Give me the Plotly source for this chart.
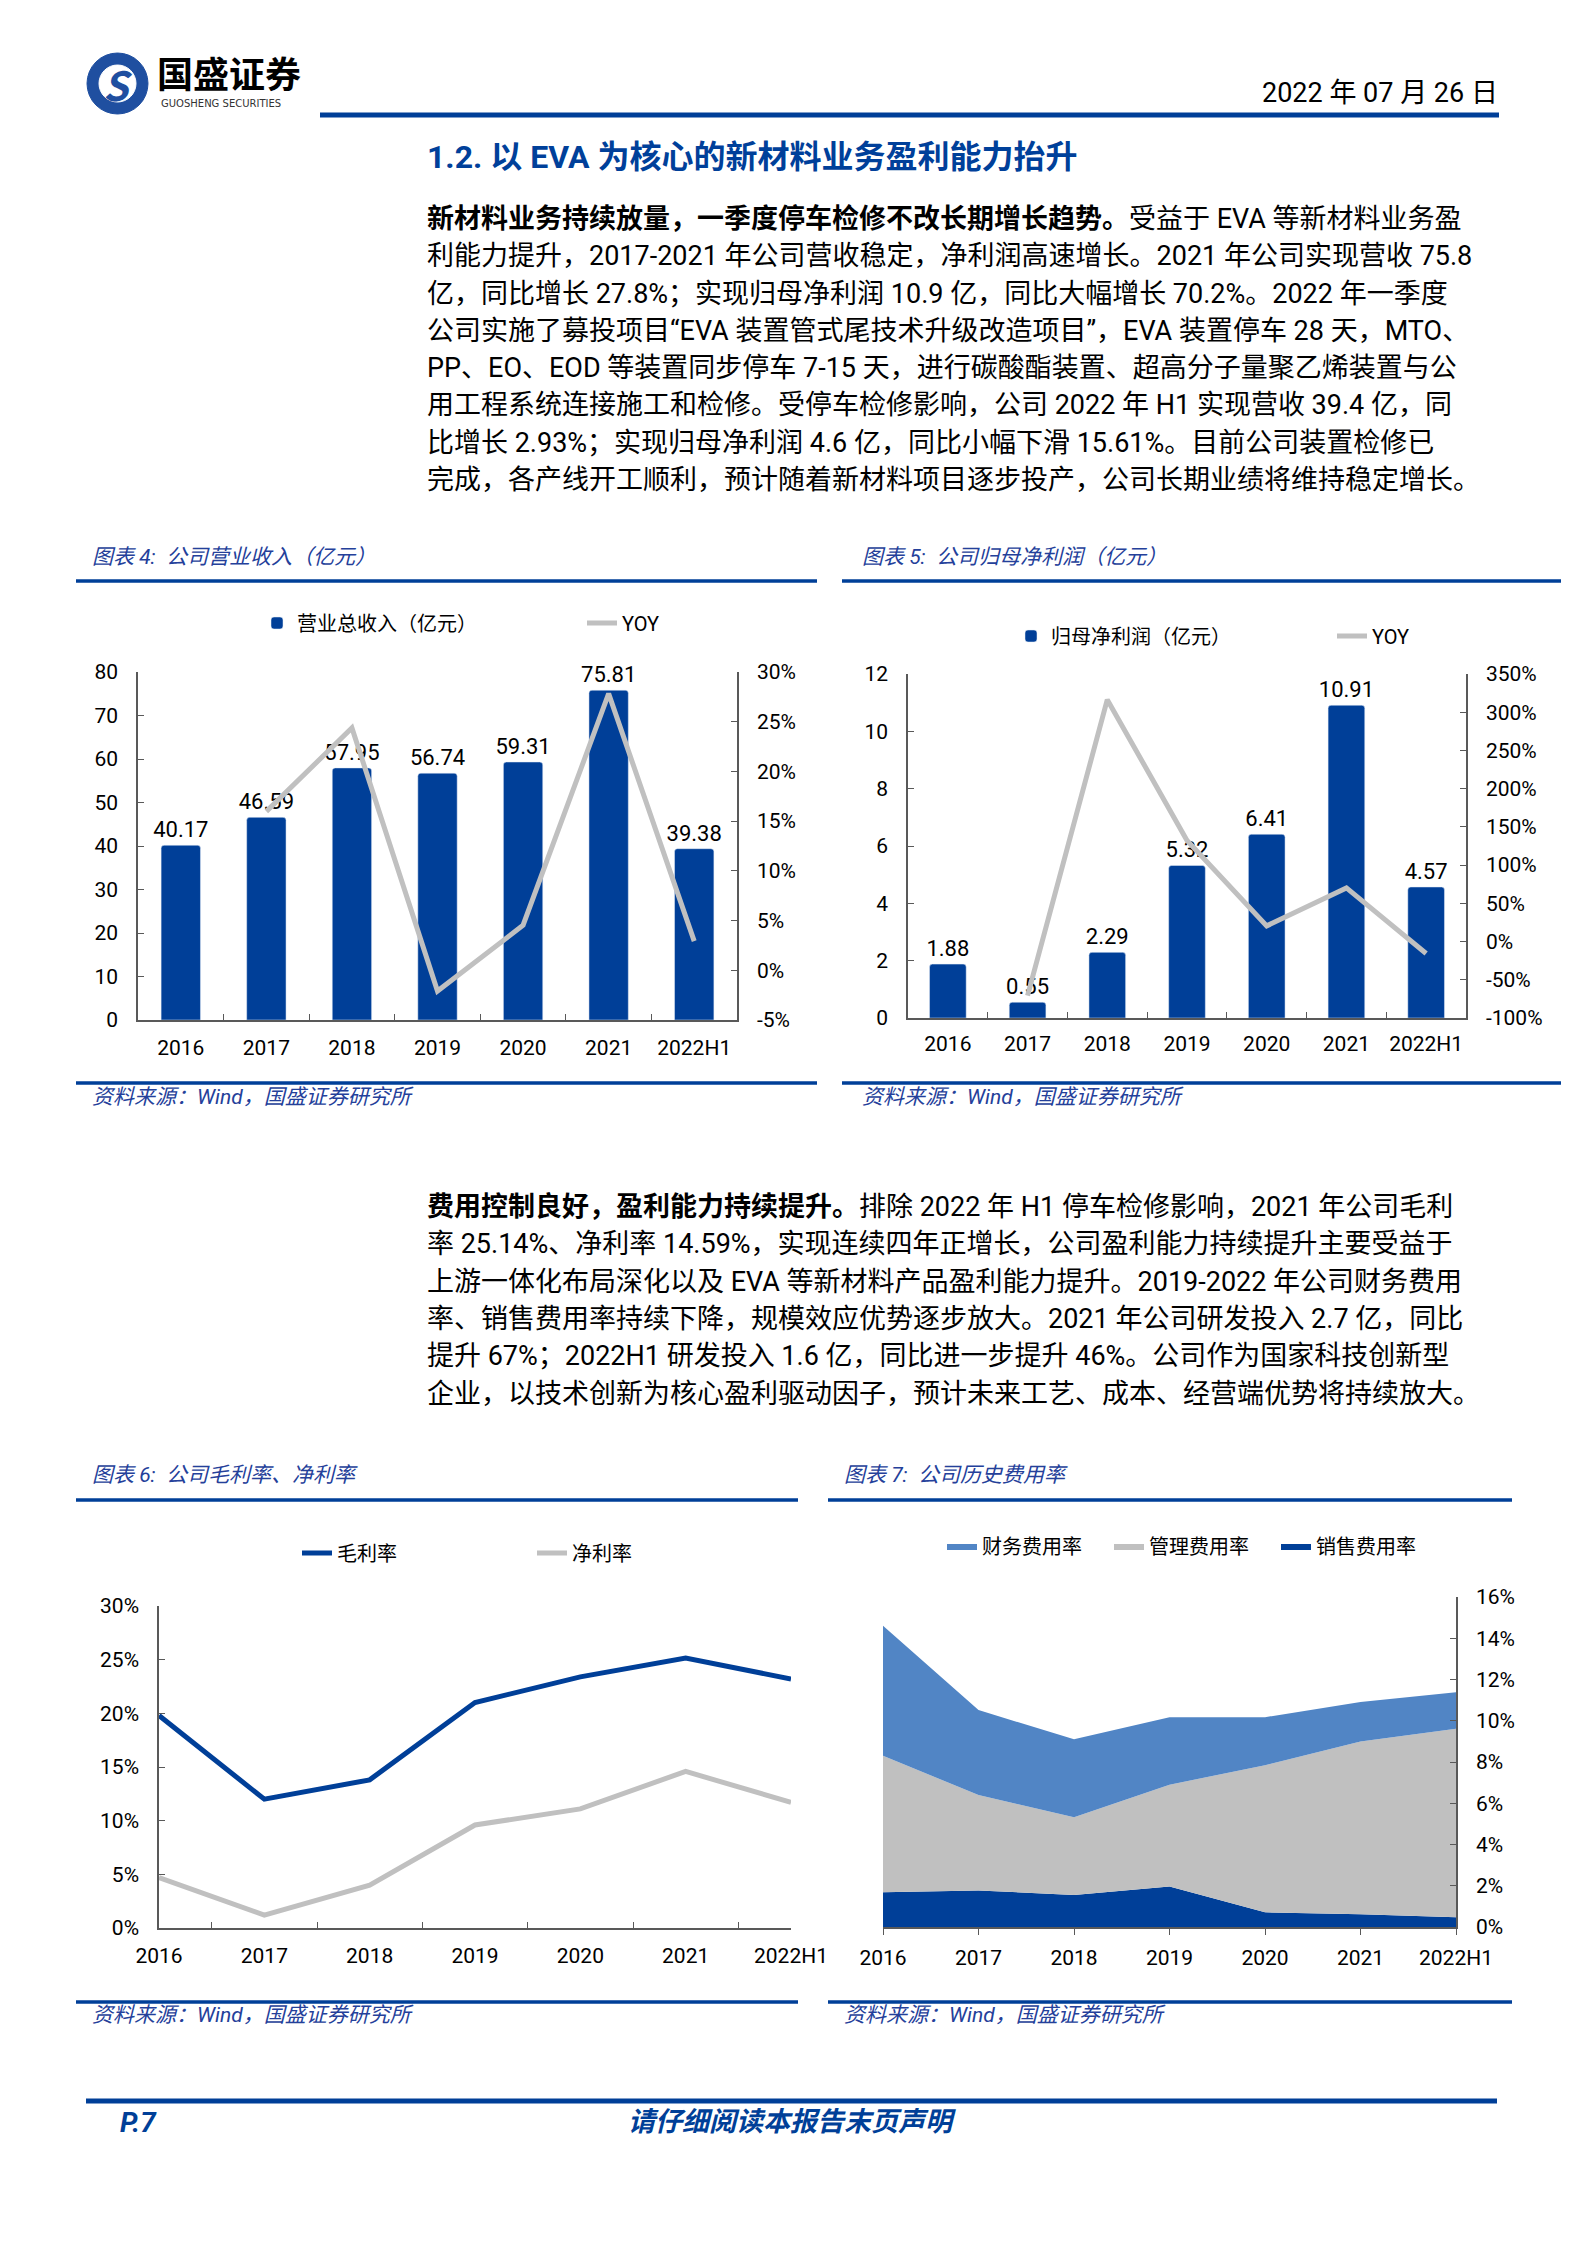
"""
国盛证券研报 P.7 页面复刻：营收/归母净利润/利润率/费用率四张图及正文。
"""
import plotly.graph_objects as go

PAGE_W, PAGE_H = 1587, 2245
BODY_MARGIN = 8  # the html page puts the plot 8px in from the top-left corner

# ---- data -----------------------------------------------------------------
YEARS = ["2016", "2017", "2018", "2019", "2020", "2021", "2022H1"]

# 图表4：公司营业收入（亿元）
REVENUE = [40.17, 46.59, 57.95, 56.74, 59.31, 75.81, 39.38]
REVENUE_YOY = [None, 15.98, 24.38, -2.09, 4.53, 27.82, 2.93]

# 图表5：公司归母净利润（亿元）
NET_PROFIT = [1.88, 0.55, 2.29, 5.32, 6.41, 10.91, 4.57]
NET_PROFIT_YOY = [None, -70.7, 316.4, 132.3, 20.5, 70.2, -15.61]

# 图表6：毛利率、净利率（%）
GROSS_MARGIN = [19.8, 12.0, 13.8, 21.0, 23.4, 25.14, 23.2]
NET_MARGIN = [4.7, 1.2, 4.0, 9.6, 11.1, 14.59, 11.7]

# 图表7：费用率（%）
SELLING_RATE = [1.68, 1.77, 1.55, 1.96, 0.71, 0.62, 0.47]
ADMIN_RATE = [6.62, 4.63, 3.77, 4.94, 7.13, 8.37, 9.14]
FINANCE_RATE = [6.30, 4.12, 3.78, 3.27, 2.33, 1.92, 1.77]

# tick values
REV_TICKS = [0, 10, 20, 30, 40, 50, 60, 70, 80]
REV_YOY_TICKS = [-5, 0, 5, 10, 15, 20, 25, 30]
NP_TICKS = [0, 2, 4, 6, 8, 10, 12]
NP_YOY_TICKS = [-100, -50, 0, 50, 100, 150, 200, 250, 300, 350]
MARGIN_TICKS = [0, 5, 10, 15, 20, 25, 30]
RATE_TICKS = [0, 2, 4, 6, 8, 10, 12, 14, 16]

PARA_1 = [
    "<b>新材料业务持续放量，一季度停车检修不改长期增长趋势。</b>受益于 EVA 等新材料业务盈",
    "利能力提升，2017-2021 年公司营收稳定，净利润高速增长。2021 年公司实现营收 75.8",
    "亿，同比增长 27.8%；实现归母净利润 10.9 亿，同比大幅增长 70.2%。2022 年一季度",
    "公司实施了募投项目“EVA 装置管式尾技术升级改造项目”，EVA 装置停车 28 天，MTO、",
    "PP、EO、EOD 等装置同步停车 7-15 天，进行碳酸酯装置、超高分子量聚乙烯装置与公",
    "用工程系统连接施工和检修。受停车检修影响，公司 2022 年 H1 实现营收 39.4 亿，同",
    "比增长 2.93%；实现归母净利润 4.6 亿，同比小幅下滑 15.61%。目前公司装置检修已",
    "完成，各产线开工顺利，预计随着新材料项目逐步投产，公司长期业绩将维持稳定增长。",
]
PARA_2 = [
    "<b>费用控制良好，盈利能力持续提升。</b>排除 2022 年 H1 停车检修影响，2021 年公司毛利",
    "率 25.14%、净利率 14.59%，实现连续四年正增长，公司盈利能力持续提升主要受益于",
    "上游一体化布局深化以及 EVA 等新材料产品盈利能力提升。2019-2022 年公司财务费用",
    "率、销售费用率持续下降，规模效应优势逐步放大。2021 年公司研发投入 2.7 亿，同比",
    "提升 67%；2022H1 研发投入 1.6 亿，同比进一步提升 46%。公司作为国家科技创新型",
    "企业，以技术创新为核心盈利驱动因子，预计未来工艺、成本、经营端优势将持续放大。",
]

# ---- style ----------------------------------------------------------------
FONT = "Liberation Sans Narrow, Roboto, Noto Sans CJK SC, sans-serif"
CJK = "Noto Sans CJK SC, sans-serif"
BLUE = "#003F98"
LIGHT_BLUE = "#5185C5"
GRAY = "#C0C0C0"
AXIS = "#595959"
CAPTION = "#24409A"


def px(x):
    """page pixel x -> paper fraction"""
    return (x - BODY_MARGIN) / PAGE_W


def py(y):
    """page pixel y (from top) -> paper fraction"""
    return 1 - (y - BODY_MARGIN) / PAGE_H


def pct_text(vals):
    return [f"{v}%" for v in vals]


def axis_style(**kw):
    base = dict(showline=True, linecolor=AXIS, linewidth=1.5, ticks="inside",
                ticklen=6, tickcolor=AXIS, showgrid=False, zeroline=False,
                tickfont=dict(family=FONT, size=21, color="#000"),
                ticklabelstandoff=14, fixedrange=True, automargin=False,
                tickangle=0)
    base.update(kw)
    return base


def legend_style(x, y, entrywidth, **kw):
    base = dict(x=px(x), y=py(y), xanchor="left", yanchor="middle",
                orientation="h", entrywidth=entrywidth, entrywidthmode="pixels",
                font=dict(family=FONT, size=20, color="#000"),
                bgcolor="rgba(0,0,0,0)", itemwidth=30)
    base.update(kw)
    return base


fig = go.Figure()

# 图表4
fig.add_trace(go.Bar(x=YEARS, y=REVENUE, name="营业总收入（亿元）",
                     marker=dict(color=BLUE, cornerradius=3),
                     text=REVENUE, texttemplate="%{y:.2f}", textposition="outside",
                     textfont=dict(family=FONT, size=22, color="#000"),
                     constraintext="none", cliponaxis=False,
                     xaxis="x", yaxis="y", legend="legend"))
fig.add_trace(go.Scatter(x=YEARS, y=REVENUE_YOY, name="YOY", mode="lines",
                         line=dict(color=GRAY, width=5), xaxis="x", yaxis="y2",
                         legend="legend"))

# 图表5
fig.add_trace(go.Bar(x=YEARS, y=NET_PROFIT, name="归母净利润（亿元）",
                     marker=dict(color=BLUE, cornerradius=3),
                     text=NET_PROFIT, texttemplate="%{y:.2f}", textposition="outside",
                     textfont=dict(family=FONT, size=22, color="#000"),
                     constraintext="none", cliponaxis=False,
                     xaxis="x2", yaxis="y3", legend="legend2"))
fig.add_trace(go.Scatter(x=YEARS, y=NET_PROFIT_YOY, name="YOY", mode="lines",
                         line=dict(color=GRAY, width=5), xaxis="x2", yaxis="y4",
                         legend="legend2"))

# 图表6
fig.add_trace(go.Scatter(x=YEARS, y=GROSS_MARGIN, name="毛利率", mode="lines",
                         line=dict(color=BLUE, width=5), xaxis="x3", yaxis="y5",
                         legend="legend3"))
fig.add_trace(go.Scatter(x=YEARS, y=NET_MARGIN, name="净利率", mode="lines",
                         line=dict(color=GRAY, width=5), xaxis="x3", yaxis="y5",
                         legend="legend3"))

# 图表7 (stacked from bottom: 销售, 管理, 财务)
for name, vals, color in [("销售费用率", SELLING_RATE, BLUE),
                          ("管理费用率", ADMIN_RATE, GRAY),
                          ("财务费用率", FINANCE_RATE, LIGHT_BLUE)]:
    fig.add_trace(go.Scatter(x=YEARS, y=vals, name=name, mode="lines",
                             stackgroup="rate", line=dict(width=0, color=color),
                             fillcolor=color, xaxis="x4", yaxis="y6",
                             legend="legend4"))

fig.update_layout(
    width=PAGE_W, height=PAGE_H, autosize=False,
    margin=dict(l=0, r=0, t=0, b=0, autoexpand=False),
    paper_bgcolor="white", plot_bgcolor="rgba(0,0,0,0)",
    bargap=0.54, hovermode=False,
    xaxis=axis_style(domain=[px(138), px(737)], anchor="y", type="category",
                     tickson="boundaries", ticklabelstandoff=8),
    yaxis=axis_style(domain=[py(1020), py(672)], anchor="x", range=[0, 80],
                     tickvals=REV_TICKS),
    yaxis2=axis_style(overlaying="y", side="right", anchor="x", range=[-5, 30],
                      tickvals=REV_YOY_TICKS, ticktext=pct_text(REV_YOY_TICKS)),
    xaxis2=axis_style(domain=[px(908), px(1466)], anchor="y3", type="category",
                      tickson="boundaries", ticklabelstandoff=6),
    yaxis3=axis_style(domain=[py(1018), py(674)], anchor="x2", range=[0, 12],
                      tickvals=NP_TICKS),
    yaxis4=axis_style(overlaying="y3", side="right", anchor="x2", range=[-100, 350],
                      tickvals=NP_YOY_TICKS, ticktext=pct_text(NP_YOY_TICKS)),
    xaxis3=axis_style(domain=[px(159), px(791)], anchor="y5", type="category",
                      tickson="boundaries", ticklabelstandoff=8),
    yaxis5=axis_style(domain=[py(1928), py(1606)], anchor="x3", range=[0, 30],
                      tickvals=MARGIN_TICKS, ticktext=pct_text(MARGIN_TICKS)),
    xaxis4=axis_style(domain=[px(883), px(1456)], anchor="y6", type="category",
                      range=[0, 6], ticks="outside", ticklabelstandoff=5),
    yaxis6=axis_style(domain=[py(1927), py(1597)], anchor="x4", side="right",
                      range=[0, 16], tickvals=RATE_TICKS,
                      ticktext=pct_text(RATE_TICKS)),
    legend=legend_style(257, 623, 280),
    legend2=legend_style(1011, 636, 276),
    legend3=legend_style(297, 1553, 190),
    legend4=legend_style(942, 1546, 122, traceorder="reversed"),
)

# ---- page decoration: header, rules, captions, body text ------------------
shapes = []
annotations = []


def hline(x0, x1, y, width=3.5, color=BLUE):
    shapes.append(dict(type="line", xref="paper", yref="paper",
                       x0=px(x0), x1=px(x1), y0=py(y), y1=py(y),
                       line=dict(color=color, width=width)))


def text(x, y, s, size, color="#000", anchor="left", family=FONT, style="normal"):
    annotations.append(dict(x=px(x), y=py(y), xref="paper", yref="paper",
                            text=s, showarrow=False, xanchor=anchor,
                            yanchor="middle", align=anchor,
                            font=dict(family=family, size=size, color=color,
                                      style=style)))


# header
shapes.append(dict(type="circle", xref="paper", yref="paper",
                   x0=px(87), x1=px(148), y0=py(114), y1=py(53),
                   fillcolor="#1F4FA0", line=dict(color="#1F4FA0", width=1)))
shapes.append(dict(type="circle", xref="paper", yref="paper",
                   x0=px(99), x1=px(136), y0=py(102), y1=py(65),
                   fillcolor="white", line=dict(color="white", width=1)))
text(117.5, 84, "<b>S</b>", 40, color="#1F4FA0", anchor="center", family=CJK,
     style="italic")
text(155, 72, "<b>国盛证券</b>", 36, family=CJK)
text(159, 104, "GUOSHENG SECURITIES", 10, color="#333", family="DejaVu Sans")
text(1500, 93, "2022 年 07 月 26 日", 27, anchor="right")
hline(320, 1499, 115, width=5)
text(425, 157, "<b>1.2. 以 EVA 为核心的新材料业务盈利能力抬升</b>", 32, color="#00409A")

for i, line in enumerate(PARA_1):
    text(425, 219 + i * 37.3, line, 27)
for i, line in enumerate(PARA_2):
    text(425, 1207 + i * 37.3, line, 27)

# chart captions and source notes
SOURCE = "资料来源：Wind，国盛证券研究所"
for x0, x1, title_x, title, top, bottom, title_y, src_y in [
    (76, 817, 90, "图表 4:  公司营业收入（亿元）", 581, 1083, 557, 1097),
    (842, 1561, 860, "图表 5:  公司归母净利润（亿元）", 581, 1083, 557, 1097),
    (76, 798, 90, "图表 6:  公司毛利率、净利率", 1500, 2002, 1475, 2015),
    (828, 1512, 842, "图表 7:  公司历史费用率", 1500, 2002, 1475, 2015),
]:
    hline(x0, x1, top)
    hline(x0, x1, bottom)
    text(title_x, title_y, title, 21, color=CAPTION, style="italic")
    text(title_x, src_y, SOURCE, 21, color=CAPTION, style="italic")

# footer
hline(86, 1497, 2101, width=5)
text(118, 2122, "<b>P.7</b>", 28, color=BLUE, style="italic")
text(792, 2122, "<b>请仔细阅读本报告末页声明</b>", 27, color=BLUE, anchor="center",
     style="italic")

fig.update_layout(shapes=shapes, annotations=annotations)

fig.write_html("out.html")
